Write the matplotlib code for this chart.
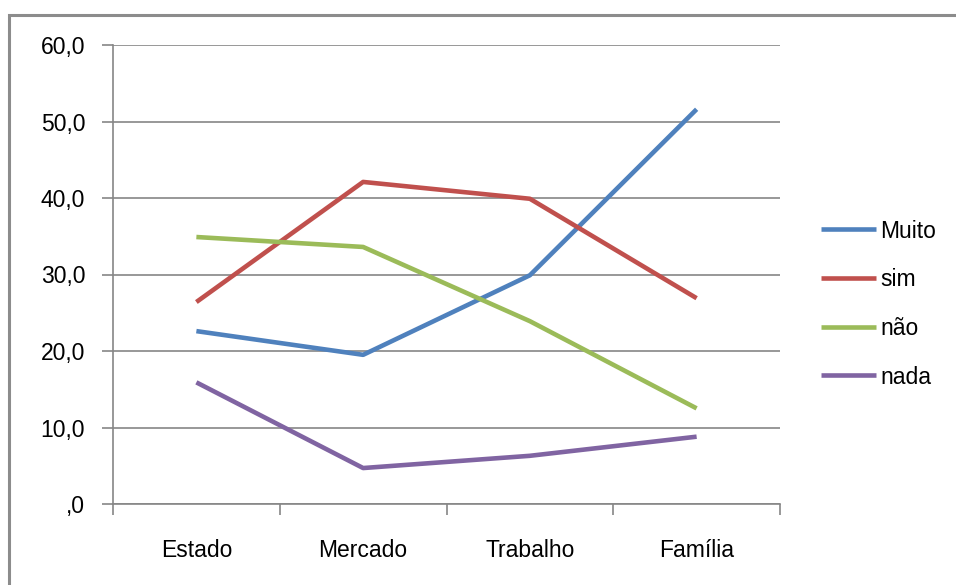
import matplotlib
matplotlib.use("Agg")
import matplotlib.pyplot as plt
from matplotlib.patches import Rectangle

plt.rcParams['font.family'] = ['Liberation Sans', 'DejaVu Sans']

categorias = ['Estado', 'Mercado', 'Trabalho', 'Família']
muito = [22.6, 19.5, 29.9, 51.6]
sim = [26.4, 42.1, 39.9, 26.9]
nao = [34.9, 33.6, 23.9, 12.5]
nada = [15.9, 4.7, 6.3, 8.8]
series_nomes = ['Muito', 'sim', 'não', 'nada']
y_ticks = [0, 10, 20, 30, 40, 50, 60]
y_labels = [',0', '10,0', '20,0', '30,0', '40,0', '50,0', '60,0']

cores = ['#4F81BD', '#C0504D', '#9BBB59', '#8064A2']
cinza = '#868686'
fs = 16.5

fig = plt.figure(figsize=(9.56, 5.85), dpi=100)
ax = fig.add_axes([113 / 956, 81 / 585, 667 / 956, 459 / 585])

x = list(range(len(categorias)))
for valores, nome, cor in zip([muito, sim, nao, nada], series_nomes, cores):
    ax.plot(x, valores, color=cor, lw=3.3, label=nome, solid_capstyle='butt')

ax.set_xlim(-0.5, len(categorias) - 0.5)
ax.set_ylim(0, 60)
ax.set_yticks(y_ticks)
ax.set_yticklabels(y_labels, fontsize=fs)
ax.yaxis.grid(True, color=cinza, lw=1.2)
ax.set_axisbelow(True)

ax.set_xticks(x)
ax.set_xticklabels(categorias, fontsize=fs)
ax.set_xticks([i - 0.5 for i in range(len(categorias) + 1)], minor=True)
ax.tick_params(axis='x', which='major', length=0, pad=25)
ax.tick_params(axis='x', which='minor', length=8, color=cinza, width=1.2)
ax.tick_params(axis='y', length=8, color=cinza, width=1.2, pad=12)

for lado in ['top', 'right']:
    ax.spines[lado].set_visible(False)
for lado in ['left', 'bottom']:
    ax.spines[lado].set_color(cinza)
    ax.spines[lado].set_linewidth(1.2)

leg = fig.legend(loc='center left', bbox_to_anchor=(800 / 956, 1 - 304 / 585),
                 frameon=False, fontsize=fs, handlelength=2.4, handletextpad=0.2,
                 labelspacing=1.12)
for linha in leg.get_lines():
    linha.set_linewidth(3.3)

# moldura externa
fig.patches.append(Rectangle((9 / 956, -0.05), 1.0, 1 - 15 / 585 + 0.05,
                             transform=fig.transFigure, fill=False,
                             edgecolor='#8C8C8C', lw=2.2))

fig.savefig('out.png', dpi=100)
